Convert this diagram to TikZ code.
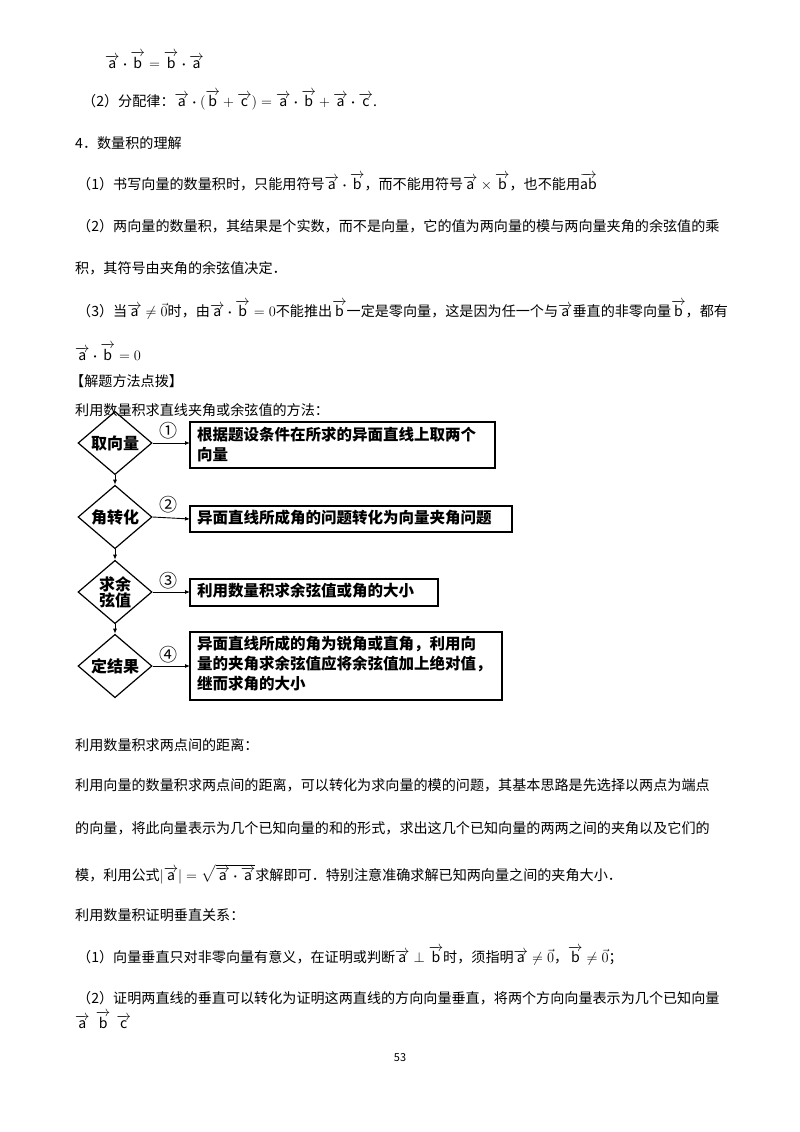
\documentclass[tikz,border=0pt]{standalone}
\usepackage{amsmath}
\usepackage{fontspec}
\setmainfont{Noto Sans CJK SC}
\usetikzlibrary{shapes.geometric,arrows.meta}
\newcommand{\vc}[1]{\overrightarrow{\mathrm{#1}}}
\newcommand{\dt}{\boldsymbol{\cdot}}
\begin{document}
\begin{tikzpicture}[x=1pt,y=-1pt,
  txt/.style={anchor=west,inner sep=0pt,font=\fontsize{14.1}{16}\selectfont},
  dia/.style={draw,line width=1.2pt,diamond,minimum width=74pt,minimum height=61pt,inner sep=0pt,align=center,font=\fontsize{16}{19}\selectfont\bfseries},
  bx/.style={draw,line width=1.2pt},
  bt/.style={anchor=north west,inner sep=0pt,align=left,font=\fontsize{15.5}{20}\selectfont\bfseries},
  arr/.style={-{Latex[length=5pt,width=4pt]},line width=0.9pt},
  num/.style={font=\fontsize{18}{18}\selectfont}]
\useasboundingbox[fill=white] (0,0) rectangle (800,1132);
\node[txt] (l1) at (105,60) {$\vc{a}\dt\vc{b}=\vc{b}\dt\vc{a}$};
\node[txt] (l2) at (82,100) {（2）分配律：$\vc{a}\dt(\vc{b}+\vc{c})=\vc{a}\dt\vc{b}+\vc{a}\dt\vc{c}$.};
\node[txt] (l3) at (75,143) {4．数量积的理解};
\node[txt] (l4) at (77,182) {（1）书写向量的数量积时，只能用符号$\vc{a}\dt\vc{b}$，而不能用符号$\vc{a}\times\vc{b}$，也不能用$\overrightarrow{\mathrm{ab}}$};
\node[txt] (l5) at (77,226) {（2）两向量的数量积，其结果是个实数，而不是向量，它的值为两向量的模与两向量夹角的余弦值的乘};
\node[txt] (l6) at (75,268) {积，其符号由夹角的余弦值决定．};
\node[txt] (l7) at (77,310) {（3）当$\vc{a}\neq\vec{0}$时，由$\vc{a}\dt\vc{b}=0$不能推出$\vc{b}$一定是零向量，这是因为任一个与$\vc{a}$垂直的非零向量$\vc{b}$，都有};
\node[txt] (l8) at (75,352) {$\vc{a}\dt\vc{b}=0$};
\node[txt] (l9) at (70,381) {【解题方法点拨】};
\node[txt] (l10) at (75,410) {利用数量积求直线夹角或余弦值的方法：};
% flowchart
\node[dia] (d1) at (115,443) {取向量};
\node[dia] (d2) at (115,517) {角转化};
\node[dia] (d3) at (115,592) {求余\\[-3pt]弦值};
\node[dia] (d4) at (115,666) {定结果};
\draw[bx] (190,422) rectangle (495,468);
\coordinate (b1) at (190,443);
\node[bt] (t1) at (197,427) {根据题设条件在所求的异面直线上取两个\\向量};
\draw[bx] (190,506) rectangle (512,532);
\coordinate (b2) at (190,519);
\node[bt] (t2) at (197,510) {异面直线所成角的问题转化为向量夹角问题};
\draw[bx] (190,579) rectangle (438,606);
\coordinate (b3) at (190,592);
\node[bt] (t3) at (197,583) {利用数量积求余弦值或角的大小};
\draw[bx] (190,632) rectangle (502,700);
\coordinate (b4) at (190,666);
\node[bt] (t4) at (197,636) {异面直线所成的角为锐角或直角，利用向\\量的夹角求余弦值应将余弦值加上绝对值，\\继而求角的大小};
\foreach \i in {1,2,3,4}{
  \draw[arr] (d\i.east) -- (b\i);
}
\node[num] (n1) at (168,431) {①};
\node[num] (n2) at (168,505) {②};
\node[num] (n3) at (168,581) {③};
\node[num] (n4) at (168,655) {④};
\draw[arr] (d1.south) -- (d2.north);
\draw[arr] (d2.south) -- (d3.north);
\draw[arr] (d3.south) -- (d4.north);
% lower text
\node[txt] (m1) at (75,745) {利用数量积求两点间的距离：};
\node[txt] (m2) at (75,785) {利用向量的数量积求两点间的距离，可以转化为求向量的模的问题，其基本思路是先选择以两点为端点};
\node[txt] (m3) at (75,828) {的向量，将此向量表示为几个已知向量的和的形式，求出这几个已知向量的两两之间的夹角以及它们的};
\node[txt] (m4) at (75,874) {模，利用公式$|\vc{a}|=\sqrt{\vc{a}\dt\vc{a}}$求解即可．特别注意准确求解已知两向量之间的夹角大小．};
\node[txt] (m5) at (75,915) {利用数量积证明垂直关系：};
\node[txt] (m6) at (77,956) {（1）向量垂直只对非零向量有意义，在证明或判断$\vc{a}\perp\vc{b}$时，须指明$\vc{a}\neq\vec{0}$，$\vc{b}\neq\vec{0}$；};
\node[txt] (m7) at (77,998) {（2）证明两直线的垂直可以转化为证明这两直线的方向向量垂直，将两个方向向量表示为几个已知向量};
\node[txt] (m8) at (75,1020) {$\vc{a}\ \ \vc{b}\ \ \vc{c}$};
\node[font=\fontsize{11}{12}\selectfont] (pg) at (400,1058) {53};
\end{tikzpicture}
\end{document}
